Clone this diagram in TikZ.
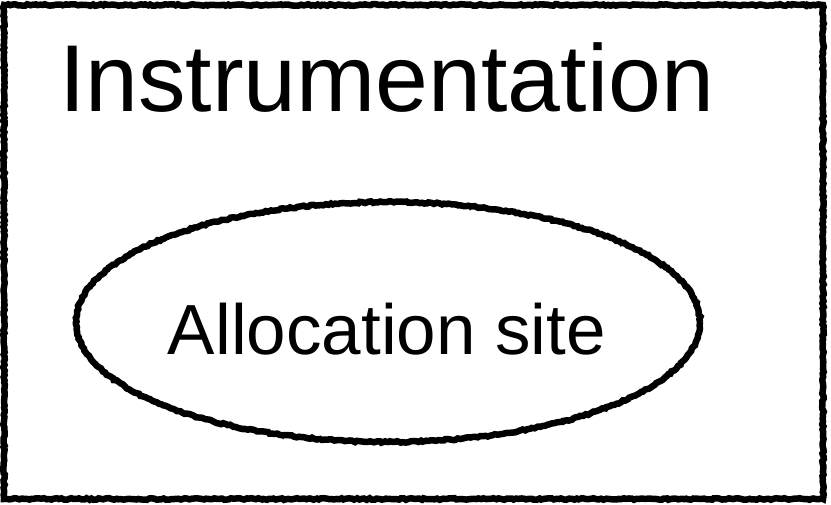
\documentclass[tikz,border=0pt]{standalone}
\usepackage{fontspec}
\setmainfont{Liberation Sans}
\usetikzlibrary{shapes.geometric,decorations.pathmorphing}
\tikzset{
  chalk/.style={draw=black, line width=6.5pt, decorate,
    decoration={random steps, segment length=2.5pt, amplitude=0.8pt}},
  chalkthin/.style={draw=black, line width=1.5pt, decorate,
    decoration={random steps, segment length=2pt, amplitude=1.6pt}},
}
\begin{document}
\begin{tikzpicture}[x=1pt,y=1pt]
  \useasboundingbox (0,0) rectangle (831,504);
  \fill[white] (0,0) rectangle (831,504);
  \pgfmathsetseed{7}
  % outer frame
  \node[chalk, rectangle, minimum width=819pt, minimum height=494pt,
        inner sep=0pt] (frame) at (413.5,252) {};
  \node[chalkthin, rectangle, minimum width=819pt, minimum height=494pt,
        inner sep=0pt] at (413.5,252) {};
  % title
  \node[anchor=base west, inner sep=0pt,
        font=\fontsize{95}{100}\selectfont] (title) at (59,392) {Instrumentation};
  % ellipse with its label
  \node[chalk, ellipse, minimum width=624pt, minimum height=240pt,
        inner sep=0pt] (site) at (388,182) {};
  \node[chalkthin, ellipse, minimum width=624pt, minimum height=240pt,
        inner sep=0pt] at (388,182) {};
  \node[anchor=base, inner sep=0pt, font=\fontsize{71}{80}\selectfont]
        (label) at (387,149) {Allocation site};
\end{tikzpicture}
\end{document}
